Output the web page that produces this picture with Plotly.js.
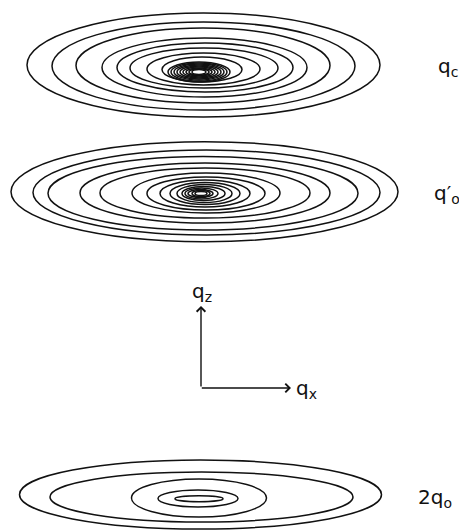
<!DOCTYPE html>
<html>
<head>
<meta charset="utf-8">
<script src="https://cdn.plot.ly/plotly-3.0.1.min.js"></script>
<style>html,body{margin:0;padding:0;background:#fff;}#chart{width:459px;height:531px;}</style>
</head>
<body>
<div id="chart"></div>
<script>
// Contour rings: centre offset (qx, qz) and half-widths along qx and qz
// Panel q_c
const qcCx = [0.5, 0.5, 0, 1.5, 2, 1, 0.5, -1, -4, -4, -4, -4, -4, -4, -4, -4, -4];
const qcCz = [0, -1, -0.5, -2.5, -2.5, -3, -4, -4.5, -7, -7, -7, -7, -7, -7, -7, -7, -7];
const qcA  = [176.5, 151.5, 127, 102.5, 88, 74, 56.5, 40, 31, 28, 25, 22, 19, 16, 13, 10, 7];
const qcB  = [52, 44, 37.5, 29.5, 24.5, 20, 16, 12.5, 10, 9, 8, 7, 6, 5, 4, 3.2, 2.4];
// Panel q'_o
const qpCx = [1.5, 3.5, 0, 2, 2, 3, 3, 2, 2, 1.5, 0.5, -1.5, -2.5, -2, -2];
const qpCz = [0.8, 0, -0.8, -0.5, -0.5, -0.5, -1, -1, -1, -1, -1, -1, -1, -1, -1];
const qpA  = [193.5, 173.5, 155, 125, 105, 74, 59, 45, 35, 27.5, 21.5, 16.5, 12.5, 9, 6];
const qpB  = [50, 42.5, 36.7, 30, 25, 20, 16.5, 13.5, 11, 9, 7, 5.5, 4, 3, 2];
// Panel 2q_o
const q2Cx = [-2.5, -1.5, -4, -5, -4];
const q2Cz = [1.5, -1, -2, -2.5, -2.7];
const q2A  = [181, 151.5, 67.5, 40, 24];
const q2B  = [34.5, 25, 19, 8.5, 3];

const panelLabels = ['q<sub>c</sub>', 'q\u2032<sub>o</sub>', '2q<sub>o</sub>'];
const axisLabels = ['q<sub>z</sub>', 'q<sub>x</sub>'];

const panels = [
  {cx: qcCx, cz: qcCz, a: qcA, b: qcB, yref: 'y'},
  {cx: qpCx, cz: qpCz, a: qpA, b: qpB, yref: 'y2'},
  {cx: q2Cx, cz: q2Cz, a: q2A, b: q2B, yref: 'y3'}
];

const lineStyle = {color: '#111', width: 1.5};
const shapes = [];
panels.forEach(p => {
  p.a.forEach((a, i) => {
    shapes.push({
      type: 'circle', xref: 'x', yref: p.yref,
      x0: p.cx[i] - a, x1: p.cx[i] + a,
      y0: p.cz[i] - p.b[i], y1: p.cz[i] + p.b[i],
      line: lineStyle, fillcolor: 'rgba(0,0,0,0)'
    });
  });
});

const font = {family: '"DejaVu Sans", sans-serif', size: 20, color: '#111'};
const annotations = [
  {text: panelLabels[0], xref: 'x', yref: 'y', x: 233, y: -2, xanchor: 'left', yanchor: 'middle', showarrow: false, font: font},
  {text: panelLabels[1], xref: 'x', yref: 'y2', x: 229, y: -1, xanchor: 'left', yanchor: 'middle', showarrow: false, font: font},
  {text: panelLabels[2], xref: 'x', yref: 'y3', x: 213, y: -2, xanchor: 'left', yanchor: 'middle', showarrow: false, font: font},
  // axis arrows
  {text: '', xref: 'x', yref: 'y4', axref: 'x', ayref: 'y4', x: -2, y: 94, ax: -2, ay: 12,
   showarrow: true, arrowhead: 4, arrowsize: 1.2, arrowwidth: 1.4, arrowcolor: '#111', standoff: 0, startstandoff: 0},
  {text: '', xref: 'x', yref: 'y4', axref: 'x', ayref: 'y4', x: 88, y: 12, ax: -2.7, ay: 12,
   showarrow: true, arrowhead: 4, arrowsize: 1.2, arrowwidth: 1.4, arrowcolor: '#111', standoff: 0, startstandoff: 0},
  {text: axisLabels[0], xref: 'x', yref: 'y4', x: -1, y: 108, xanchor: 'center', yanchor: 'middle', showarrow: false, font: font},
  {text: axisLabels[1], xref: 'x', yref: 'y4', x: 91, y: 11, xanchor: 'left', yanchor: 'middle', showarrow: false, font: font}
];

const hidden = {visible: false, showgrid: false, zeroline: false, fixedrange: true};
const layout = {
  width: 459, height: 531,
  margin: {l: 0, r: 0, t: 0, b: 0, pad: 0},
  paper_bgcolor: '#fff', plot_bgcolor: '#fff',
  showlegend: false,
  xaxis: Object.assign({range: [-203, 256], domain: [0, 1]}, hidden),
  yaxis: Object.assign({range: [-65, 65], domain: [1 - 130/531, 1], anchor: 'x'}, hidden),
  yaxis2: Object.assign({range: [-62.5, 62.5], domain: [1 - 255/531, 1 - 130/531], anchor: 'x'}, hidden),
  yaxis3: Object.assign({range: [-35, 56], domain: [0, 91/531], anchor: 'x'}, hidden),
  yaxis4: Object.assign({range: [0, 130], domain: [1 - 400/531, 1 - 270/531], anchor: 'x'}, hidden),
  shapes: shapes,
  annotations: annotations
};

// invisible traces so each subplot exists
const traces = ['y', 'y2', 'y3', 'y4'].map(ya => ({
  type: 'scatter', mode: 'markers', x: [0], y: [0], xaxis: 'x', yaxis: ya,
  marker: {opacity: 0}, hoverinfo: 'skip'
}));

Plotly.newPlot('chart', traces, layout, {staticPlot: true, displayModeBar: false});
</script>
</body>
</html>
